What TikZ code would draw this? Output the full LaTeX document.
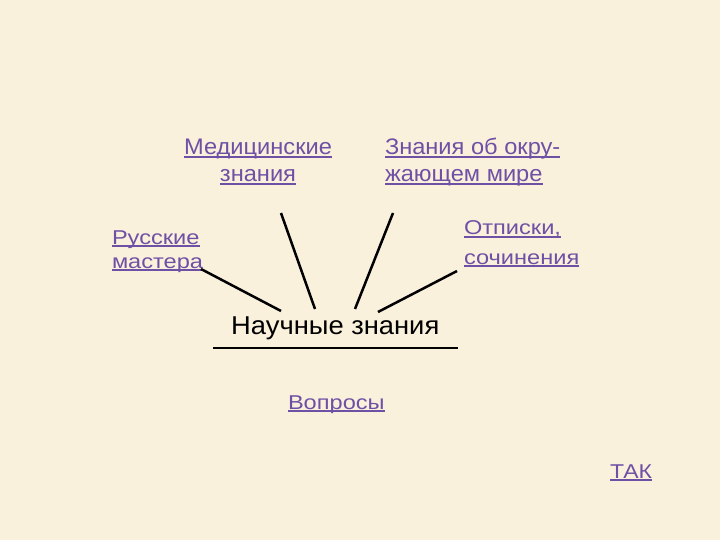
\documentclass[tikz,border=0pt]{standalone}
\usepackage{fontspec}
\setmainfont{Liberation Sans}
\usepackage{graphicx}
\definecolor{paper}{RGB}{250,241,220}
\definecolor{linkc}{RGB}{110,80,165}
\newsavebox\ulbx
\newcommand\ulk[1]{\sbox\ulbx{#1}\rlap{\rule[-3pt]{\wd\ulbx}{1.6pt}}\usebox\ulbx}
\begin{document}
\begin{tikzpicture}[x=1pt,y=-1pt,
  lbl/.style={inner sep=0pt, outer sep=0pt, text=linkc},
  conn/.style={line width=2.5pt, draw=black}]
\fill[paper] (0,0) rectangle (720,540);
\useasboundingbox (0,0) rectangle (720,540);

\node[lbl, anchor=base] (med) at (258,155)
  {\scalebox{1.05}[1]{\fontsize{22.5}{27}\selectfont\begin{tabular}[t]{@{}c@{}}\ulk{Медицинские}\\\ulk{знания}\end{tabular}}};
\node[lbl, anchor=base west] (zn) at (385,155)
  {\scalebox{1.05}[1]{\fontsize{22.5}{27}\selectfont\begin{tabular}[t]{@{}l@{}}\ulk{Знания об окру-}\\\ulk{жающем мире}\end{tabular}}};
\node[lbl, anchor=base west] (rus) at (112,244)
  {\scalebox{1.18}[1]{\fontsize{20}{24}\selectfont\begin{tabular}[t]{@{}l@{}}\ulk{Русские}\\\ulk{мастера}\end{tabular}}};
\node[lbl, anchor=base west] (otp) at (464,235)
  {\scalebox{1.18}[1]{\fontsize{20}{29}\selectfont\begin{tabular}[t]{@{}l@{}}\ulk{Отписки,}\\\ulk{сочинения}\end{tabular}}};
\node[inner sep=0pt, anchor=base west, text=black] (sci) at (231,334)
  {\scalebox{1.06}[1]{\fontsize{25.8}{30}\selectfont Научные знания}};
\node[lbl, anchor=base west] (vop) at (288,409)
  {\scalebox{1.18}[1]{\fontsize{20}{24}\selectfont\ulk{Вопросы}}};
\node[lbl, anchor=base west] (tak) at (610,478)
  {\scalebox{1.15}[1]{\fontsize{20}{24}\selectfont\ulk{ТАК}}};

\draw[line width=2.6pt] ([shift={(-18,14)}]sci.base west) -- ([shift={(227,14)}]sci.base west);

\draw[conn] ([shift={(89,25)}]rus.base west) -- ([shift={(50,-23)}]sci.base west);
\draw[conn] ([shift={(23,58)}]med.base) -- ([shift={(84,-25)}]sci.base west);
\draw[conn] ([shift={(8,58)}]zn.base west) -- ([shift={(124,-25)}]sci.base west);
\draw[conn] ([shift={(-7,36)}]otp.base west) -- ([shift={(147,-22)}]sci.base west);
\end{tikzpicture}
\end{document}
